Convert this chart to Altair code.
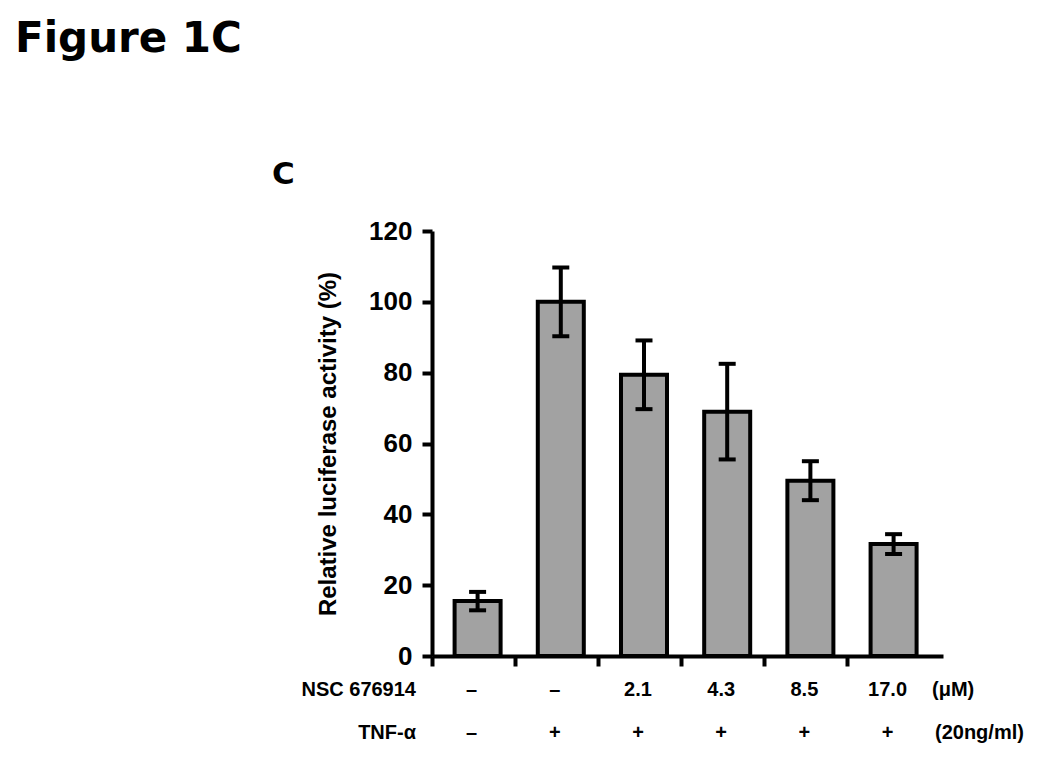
import altair as alt
import pandas as pd

# ---- data ----
conditions = ["ctrl", "TNF", "NSC 2.1", "NSC 4.3", "NSC 8.5", "NSC 17.0"]
activity = [15.5, 100.0, 79.4, 69.0, 49.5, 31.6]
sem = [2.6, 9.7, 9.7, 13.5, 5.5, 2.8]
nsc_labels = ["–", "–", "2.1", "4.3", "8.5", "17.0"]
tnf_labels = ["–", "+", "+", "+", "+", "+"]
y_ticks = [0, 20, 40, 60, 80, 100, 120]
row_headers = ["NSC 676914", "TNF-α"]
row_units = ["(μM)", "(20ng/ml)"]
fig_title = "Figure 1C"
panel_label = "C"
y_title = "Relative luciferase activity (%)"

df = pd.DataFrame({
    "cond": conditions,
    "activity": activity,
    "lo": [a - e for a, e in zip(activity, sem)],
    "hi": [a + e for a, e in zip(activity, sem)],
    "nsc": nsc_labels,
    "tnf": tnf_labels,
})

W, H = 511, 425
FONT = "Liberation Sans"
ROW1, ROW2 = 459, 502

x_enc = alt.X(
    "cond:N", sort=conditions,
    scale=alt.Scale(paddingInner=0, paddingOuter=0.071, align=0),
    axis=alt.Axis(labels=False, title=None, bandPosition=0, tickSize=10,
                  tickWidth=4, tickColor="black", domainColor="black",
                  domainWidth=4, grid=False),
)
y_scale = alt.Scale(domain=[0, 120], nice=False)
y_axis = alt.Axis(values=y_ticks, tickSize=10, tickWidth=4,
                  tickColor="black", domainColor="black", domainWidth=4,
                  labelFontSize=26, labelFontWeight="bold", labelColor="black",
                  labelFont=FONT, labelPadding=10,
                  titleFontSize=24, titleFontWeight="bold", titleColor="black",
                  titleFont=FONT, titlePadding=28, grid=False)


def yq(field):
    return alt.Y(f"{field}:Q", scale=y_scale, axis=y_axis, title=y_title)


base = alt.Chart(df)
xc = alt.X("cond:N", sort=conditions)

bars = base.mark_bar(fill="#a2a2a2", stroke="black", strokeWidth=4,
                     width=alt.RelativeBandSize(0.553), xOffset=4).encode(
    x=x_enc, y=yq("activity"))

err = base.mark_rule(color="black", strokeWidth=4, xOffset=4).encode(
    x=xc, y=yq("lo"), y2="hi:Q")
cap_lo = base.mark_tick(color="black", size=17, thickness=4, xOffset=4, opacity=1).encode(
    x=xc, y=yq("lo"))
cap_hi = base.mark_tick(color="black", size=17, thickness=4, xOffset=4, opacity=1).encode(
    x=xc, y=yq("hi"))

txt_style = dict(font=FONT, fontSize=20, fontWeight="bold", color="black",
                 baseline="middle")
nsc_row = base.mark_text(xOffset=-2, **txt_style).encode(
    x=xc, y=alt.value(ROW1), text="nsc:N")
tnf_row = base.mark_text(xOffset=-2, **txt_style).encode(
    x=xc, y=alt.value(ROW2), text="tnf:N")

hdr1 = alt.Chart(pd.DataFrame({"t": [row_headers[0]]})).mark_text(
    align="right", **txt_style).encode(x=alt.value(-16), y=alt.value(ROW1), text="t:N")
hdr2 = alt.Chart(pd.DataFrame({"t": [row_headers[1]]})).mark_text(
    align="right", **txt_style).encode(x=alt.value(-16), y=alt.value(ROW2), text="t:N")
unit1 = alt.Chart(pd.DataFrame({"t": [row_units[0]]})).mark_text(
    align="left", **txt_style).encode(x=alt.value(500), y=alt.value(ROW1), text="t:N")
unit2 = alt.Chart(pd.DataFrame({"t": [row_units[1]]})).mark_text(
    align="left", **txt_style).encode(x=alt.value(503), y=alt.value(ROW2), text="t:N")

title = alt.Chart(pd.DataFrame({"t": [fig_title]})).mark_text(
    align="left", baseline="alphabetic", font="DejaVu Sans", fontSize=42,
    fontWeight="bold", color="black").encode(
    x=alt.value(-417), y=alt.value(-179), text="t:N")

panel = alt.Chart(pd.DataFrame({"t": [panel_label]})).mark_text(
    align="left", baseline="alphabetic", font="DejaVu Sans", fontSize=31,
    fontWeight="bold", color="black").encode(
    x=alt.value(-160), y=alt.value(-47), text="t:N")

chart = alt.layer(bars, err, cap_lo, cap_hi, nsc_row, tnf_row, hdr1, hdr2,
                  unit1, unit2, title, panel).properties(
    width=W, height=H,
    autosize=alt.AutoSizeParams(type="none"),
    padding={"left": 424, "top": 223, "right": 90, "bottom": 100},
).configure(font=FONT, view=alt.ViewConfig(stroke=None))

chart.save("out.html", embed_options={"renderer": "svg", "actions": False})
